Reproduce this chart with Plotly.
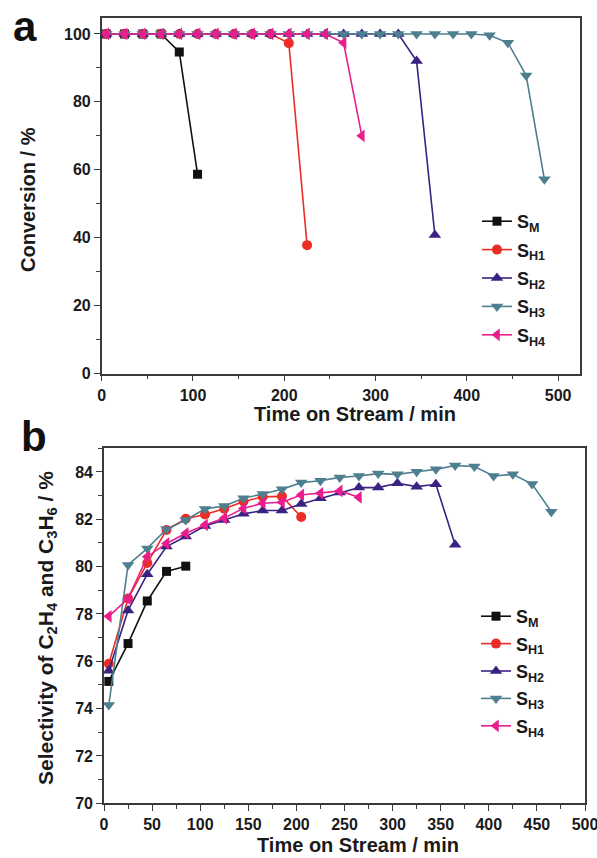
import plotly.graph_objects as go

# ---------------- data ----------------
series_names = ["S<sub>M</sub>", "S<sub>H1</sub>", "S<sub>H2</sub>", "S<sub>H3</sub>", "S<sub>H4</sub>"]
colors = ["#111111", "#ec2d27", "#3a2282", "#4e7f90", "#e91e8c"]
symbols = ["square", "circle", "triangle-up", "triangle-down", "triangle-left"]

# Panel a: conversion (%)
conv_time_M = [5, 25, 45, 65, 85, 105]
conv_M = [100, 100, 100, 100, 94.7, 58.7]
conv_time_H1 = [5, 25, 45, 65, 85, 105, 125, 145, 165, 185, 205, 225]
conv_H1 = [100, 100, 100, 100, 100, 100, 100, 100, 100, 100, 97.3, 37.8]
conv_time_H2 = [5, 25, 45, 65, 85, 105, 125, 145, 165, 185, 205, 225, 245, 265, 285, 305, 325, 345, 365]
conv_H2 = [100, 100, 100, 100, 100, 100, 100, 100, 100, 100, 100, 100, 100, 100, 100, 100, 100, 92.0, 40.8]
conv_time_H3 = [5, 25, 45, 65, 85, 105, 125, 145, 165, 185, 205, 225, 245, 265, 285, 305, 325,
                345, 365, 385, 405, 425, 445, 465, 485]
conv_H3 = [100, 100, 100, 100, 100, 100, 100, 100, 100, 100, 100, 100, 100, 100, 100, 100, 100,
           100, 100, 100, 100, 99.6, 97.4, 87.8, 57.2]
conv_time_H4 = [5, 25, 45, 65, 85, 105, 125, 145, 165, 185, 205, 225, 245, 265, 285]
conv_H4 = [100, 100, 100, 100, 100, 100, 100, 100, 100, 100, 100, 100, 100, 97.4, 70.0]

# Panel b: selectivity of C2H4 and C3H6 (%)
sel_time_M = [5, 25, 45, 65, 85]
sel_M = [75.15, 76.75, 78.55, 79.8, 80.02]
sel_time_H1 = [5, 25, 45, 65, 85, 105, 125, 145, 165, 185, 205]
sel_H1 = [75.9, 78.65, 80.15, 81.55, 82.02, 82.2, 82.45, 82.75, 82.95, 82.97, 82.1]
sel_time_H2 = [5, 25, 45, 65, 85, 105, 125, 145, 165, 185, 205, 225, 245, 265, 285, 305, 325, 345, 365]
sel_H2 = [75.6, 78.15, 79.68, 80.85, 81.27, 81.72, 81.97, 82.23, 82.37, 82.37, 82.65, 82.89,
          83.13, 83.34, 83.34, 83.52, 83.38, 83.48, 80.92]
sel_time_H3 = [5, 25, 45, 65, 85, 105, 125, 145, 165, 185, 205, 225, 245, 265, 285, 305, 325,
               345, 365, 385, 405, 425, 445, 465]
sel_H3 = [74.15, 80.07, 80.77, 81.58, 81.97, 82.44, 82.56, 82.89, 83.07, 83.27, 83.55, 83.63,
          83.77, 83.83, 83.93, 83.9, 84.01, 84.11, 84.27, 84.23, 83.83, 83.9, 83.49, 82.32]
sel_time_H4 = [5, 25, 45, 65, 85, 105, 125, 145, 165, 185, 205, 225, 245, 265]
sel_H4 = [77.9, 78.65, 80.42, 80.98, 81.41, 81.76, 82.05, 82.46, 82.68, 82.72, 83.03, 83.1, 83.2, 82.93]

conv_t = [conv_time_M, conv_time_H1, conv_time_H2, conv_time_H3, conv_time_H4]
conv_v = [conv_M, conv_H1, conv_H2, conv_H3, conv_H4]
sel_t = [sel_time_M, sel_time_H1, sel_time_H2, sel_time_H3, sel_time_H4]
sel_v = [sel_M, sel_H1, sel_H2, sel_H3, sel_H4]

W, H = 597, 858
FONT = "Liberation Sans, Arial, sans-serif"
marker_sizes = [9, 10, 11, 11, 11]

fig = go.Figure()
for i in range(5):
    fig.add_trace(go.Scatter(
        x=conv_t[i], y=conv_v[i], mode="lines+markers", name=series_names[i],
        line=dict(color=colors[i], width=1.6),
        marker=dict(symbol=symbols[i], size=marker_sizes[i], color=colors[i]),
        xaxis="x", yaxis="y", legend="legend", legendgroup="a%d" % i))
for i in range(5):
    fig.add_trace(go.Scatter(
        x=sel_t[i], y=sel_v[i], mode="lines+markers", name=series_names[i],
        line=dict(color=colors[i], width=1.6),
        marker=dict(symbol=symbols[i], size=marker_sizes[i], color=colors[i]),
        xaxis="x2", yaxis="y2", legend="legend2", legendgroup="b%d" % i))

INK = "#1a1a1a"
tickfont = dict(family=FONT, size=16, color=INK, weight="bold")
titlefont = dict(family=FONT, size=20, color=INK, weight="bold")
axcommon = dict(showline=True, linecolor="#3a3a3a", linewidth=1.6, mirror=True,
                ticks="outside", ticklen=6, tickwidth=1.4, tickcolor="#3a3a3a",
                showgrid=False, zeroline=False, tickfont=tickfont,
                automargin=False, ticklabeloverflow="allow")

def px_x(p):
    return p / W

def px_y(p):
    return 1 - p / H

fig.update_layout(
    width=W, height=H, margin=dict(l=0, r=0, t=0, b=0, pad=0),
    paper_bgcolor="white", plot_bgcolor="white",
    xaxis=dict(domain=[px_x(101.7), px_x(580)], anchor="y", range=[0, 524], dtick=100,
               minor=dict(ticks="outside", dtick=50, ticklen=4, tickcolor="#3a3a3a"), **axcommon),
    yaxis=dict(domain=[px_y(373.5), px_y(18)], anchor="x", range=[0, 104.7], dtick=20,
               minor=dict(ticks="outside", dtick=10, ticklen=4, tickcolor="#3a3a3a"), **axcommon),
    xaxis2=dict(domain=[px_x(104), px_x(585)], anchor="y2", range=[0, 500], dtick=50,
                minor=dict(ticks="outside", dtick=25, ticklen=4, tickcolor="#3a3a3a"), **axcommon),
    yaxis2=dict(domain=[px_y(803.3), px_y(448.3)], anchor="x2", range=[70, 85], dtick=2,
                minor=dict(ticks="outside", dtick=1, ticklen=4, tickcolor="#3a3a3a"), **axcommon),
    legend=dict(x=px_x(477), y=px_y(203), xanchor="left", yanchor="top",
                bgcolor="rgba(0,0,0,0)", borderwidth=0, tracegroupgap=2, itemwidth=30,
                font=dict(family=FONT, size=18, color=INK, weight="bold")),
    legend2=dict(x=px_x(476), y=px_y(598), xanchor="left", yanchor="top",
                 bgcolor="rgba(0,0,0,0)", borderwidth=0, tracegroupgap=1, itemwidth=30,
                 font=dict(family=FONT, size=18, color=INK, weight="bold")),
    annotations=[
        dict(text="a", x=px_x(25), y=px_y(27), xref="paper", yref="paper", showarrow=False,
             xanchor="center", yanchor="middle",
             font=dict(family=FONT, size=42, color="#111111", weight="bold")),
        dict(text="b", x=px_x(34), y=px_y(436), xref="paper", yref="paper", showarrow=False,
             xanchor="center", yanchor="middle",
             font=dict(family=FONT, size=42, color="#111111", weight="bold")),
        # axis titles
        dict(text="Conversion / %", x=px_x(28), y=px_y(200), xref="paper", yref="paper",
             showarrow=False, textangle=-90, xanchor="center", yanchor="middle", font=titlefont),
        dict(text="Time on Stream / min", x=px_x(355), y=px_y(414), xref="paper", yref="paper",
             showarrow=False, xanchor="center", yanchor="middle", font=titlefont),
        dict(text="Selectivity of C<sub>2</sub>H<sub>4</sub> and C<sub>3</sub>H<sub>6</sub> / %",
             x=px_x(47), y=px_y(628), xref="paper", yref="paper",
             showarrow=False, textangle=-90, xanchor="center", yanchor="middle",
             font=dict(family=FONT, size=21, color=INK, weight="bold")),
        dict(text="Time on Stream / min", x=px_x(358), y=px_y(845), xref="paper", yref="paper",
             showarrow=False, xanchor="center", yanchor="middle", font=titlefont),
    ],
)

# remove the browser's default 8px page margin so the figure fills the window exactly
fig.write_html("out.html", config={"displayModeBar": False},
               post_script="document.body.style.margin='0';document.body.style.overflow='hidden';")
